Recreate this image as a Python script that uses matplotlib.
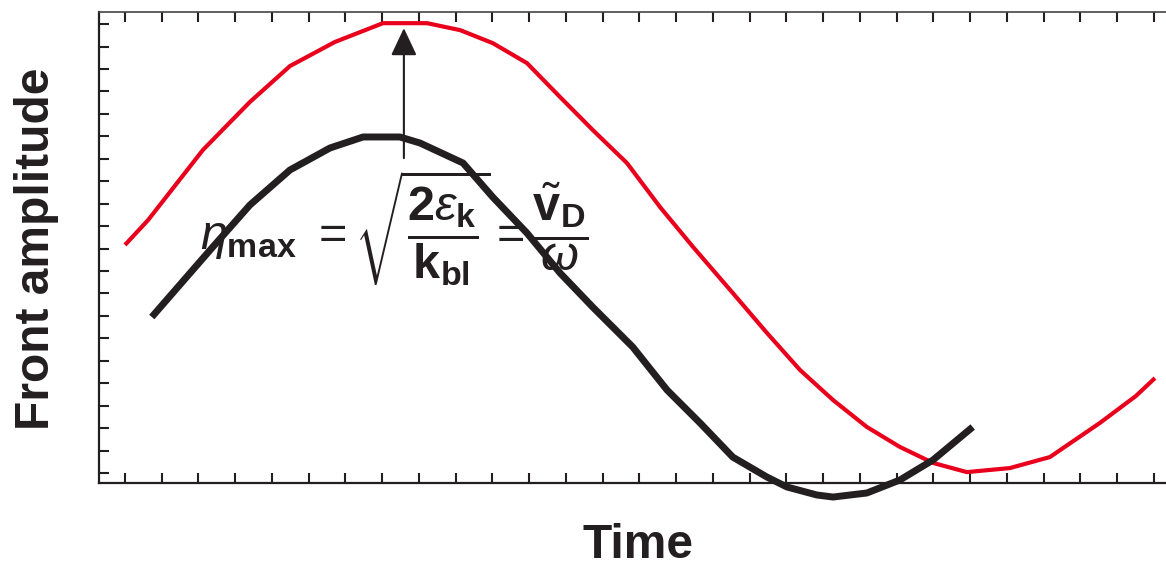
import matplotlib
matplotlib.use('Agg')
import matplotlib.pyplot as plt

plt.rcParams['font.family'] = ['Liberation Sans', 'DejaVu Sans']
plt.rcParams['mathtext.fontset'] = 'custom'
plt.rcParams['mathtext.rm'] = 'Liberation Sans'
plt.rcParams['mathtext.it'] = 'Liberation Sans:italic'
plt.rcParams['mathtext.bf'] = 'Liberation Sans:bold'

# curves, in tick units (one tick = 1)
red_t = [0.00, 0.63, 2.12, 3.40, 4.49, 5.71, 7.02, 8.22, 9.12, 10.01, 10.94, 11.84,
         12.73, 13.66, 14.56, 15.46, 16.54, 17.47, 18.37, 19.27, 20.19, 21.09, 21.99,
         22.91, 24.08, 25.17, 26.53, 27.51, 28.03]
red_amp = [10.16, 11.27, 14.39, 16.53, 18.13, 19.20, 20.04, 20.04, 19.73, 19.15, 18.26, 16.75,
           15.28, 13.81, 11.85, 10.07, 8.02, 6.24, 4.59, 3.25, 2.05, 1.16, 0.45,
           0.04, 0.22, 0.71, 2.23, 3.43, 4.23]

black_t = [0.73, 2.39, 3.40, 4.49, 5.58, 6.48, 7.48, 8.03, 9.20, 10.01, 10.94, 11.84,
           12.73, 13.82, 14.75, 15.65, 16.54, 17.47, 18.01, 18.83, 19.27, 20.19, 21.09,
           21.99, 23.07]
black_amp = [6.95, 10.07, 11.94, 13.50, 14.48, 14.97, 14.97, 14.70, 13.81, 12.29, 10.69, 8.91,
             7.39, 5.61, 3.70, 2.23, 0.71, -0.18, -0.62, -0.98, -1.07, -0.89, -0.31,
             0.58, 2.05]

arrow_t = 7.59
arrow_from = 14.03
arrow_to = 19.82

formula = (r'$\eta_{\mathbf{max}}\ = \sqrt{\dfrac{\mathbf{2}\varepsilon_{\mathbf{k}}}'
           r'{\mathbf{k}_{\mathbf{bl}}}} = \dfrac{\tilde{\mathbf{v}}_{\mathbf{D}}}{\omega}$')

ink = '#231f20'

fig = plt.figure(figsize=(11.66, 5.69), dpi=100)
ax = fig.add_axes([99 / 1166, 86 / 569, 1067 / 1166, 471.5 / 569])

ax.plot(red_t, red_amp, color='#e8001c', lw=3.0, solid_capstyle='butt')
ax.plot(black_t, black_amp, color=ink, lw=5.0, solid_capstyle='butt', clip_on=False)

ax.annotate('', xy=(arrow_t, arrow_to), xytext=(arrow_t, arrow_from),
            arrowprops=dict(arrowstyle='-|>,head_length=1.7,head_width=0.8',
                            lw=1.5, color=ink, shrinkA=0, shrinkB=0))

ax.text(2.04, 10.92, formula, fontsize=35, color=ink, ha='left', va='center')

ax.set_xlim(-0.707, 28.33)
ax.set_ylim(-0.445, 20.56)
ax.set_xticks(range(0, 29))
ax.set_yticks(range(0, 21))
ax.tick_params(direction='in', length=7.5, width=1.5, color=ink,
               top=True, labelbottom=False, labelleft=False)

ax.spines['right'].set_visible(False)
ax.spines['left'].set_linewidth(1.6)
ax.spines['bottom'].set_linewidth(1.6)
ax.spines['left'].set_color(ink)
ax.spines['bottom'].set_color(ink)
ax.spines['top'].set_linewidth(1.2)
ax.spines['top'].set_color('#444444')

fig.text(638 / 1166, 1 / 569, 'Time', fontsize=34.5, fontweight='bold',
         color=ink, ha='center', va='bottom')
fig.text(14 / 1166, (569 - 249) / 569, 'Front amplitude', fontsize=34.5,
         fontweight='bold', color=ink, rotation=90, ha='left', va='center')

fig.savefig('out.png', dpi=100)
